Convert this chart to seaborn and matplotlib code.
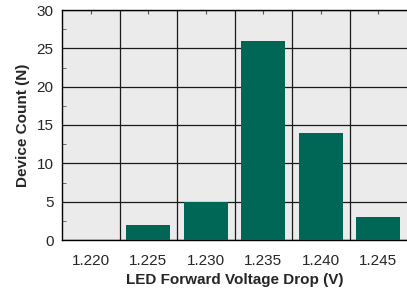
import numpy as np
import pandas as pd
import matplotlib
matplotlib.use('Agg')
import matplotlib.pyplot as plt
from matplotlib.ticker import MultipleLocator, FixedLocator
import seaborn as sns

voltages = ['1.220', '1.225', '1.230', '1.235', '1.240', '1.245']
counts = [0, 2, 5, 26, 14, 3]

df = pd.DataFrame({'voltage': voltages, 'count': counts})

sns.set_style('white')
plt.rcParams['font.family'] = ['Liberation Sans', 'DejaVu Sans']

fig = plt.figure(figsize=(4.07, 2.90), dpi=100)
ax = fig.add_axes([62 / 407, 50 / 290, 345 / 407, 230 / 290])
ax.set_facecolor('#ebebeb')

sns.barplot(data=df, x='voltage', y='count', color='#006655', saturation=1,
            width=0.77, linewidth=0, ax=ax, zorder=3)

ax.set_xlim(-0.5, len(voltages) - 0.5)
ax.set_ylim(0, 30)
ax.yaxis.set_major_locator(MultipleLocator(5))
ax.yaxis.set_minor_locator(MultipleLocator(2.5))
ax.xaxis.set_minor_locator(FixedLocator(np.arange(0.5, len(voltages) - 0.5, 1)))

ax.grid(False)
ax.grid(axis='y', which='major', color='#1a1a1a', lw=0.9, zorder=1)
ax.grid(axis='x', which='minor', color='#1a1a1a', lw=0.9, zorder=1)
ax.tick_params(axis='x', which='major', direction='in', length=3, top=True,
               labelsize=11, pad=10, color='#555555')
ax.tick_params(axis='x', which='minor', length=0)
ax.tick_params(axis='y', which='both', direction='in', left=True, labelsize=11,
               color='#555555', pad=6)
ax.tick_params(axis='y', which='major', length=0)
ax.tick_params(axis='y', which='minor', length=3)

for s in ['left', 'bottom', 'top']:
    ax.spines[s].set_color('black')
    ax.spines[s].set_linewidth(1.0)
ax.spines['right'].set_visible(False)

ax.set_xlabel('LED Forward Voltage Drop (V)', fontsize=11, fontweight='bold', labelpad=4)
ax.set_ylabel('Device Count (N)', fontsize=11, fontweight='bold', labelpad=5)

fig.savefig('out.png', dpi=100)
